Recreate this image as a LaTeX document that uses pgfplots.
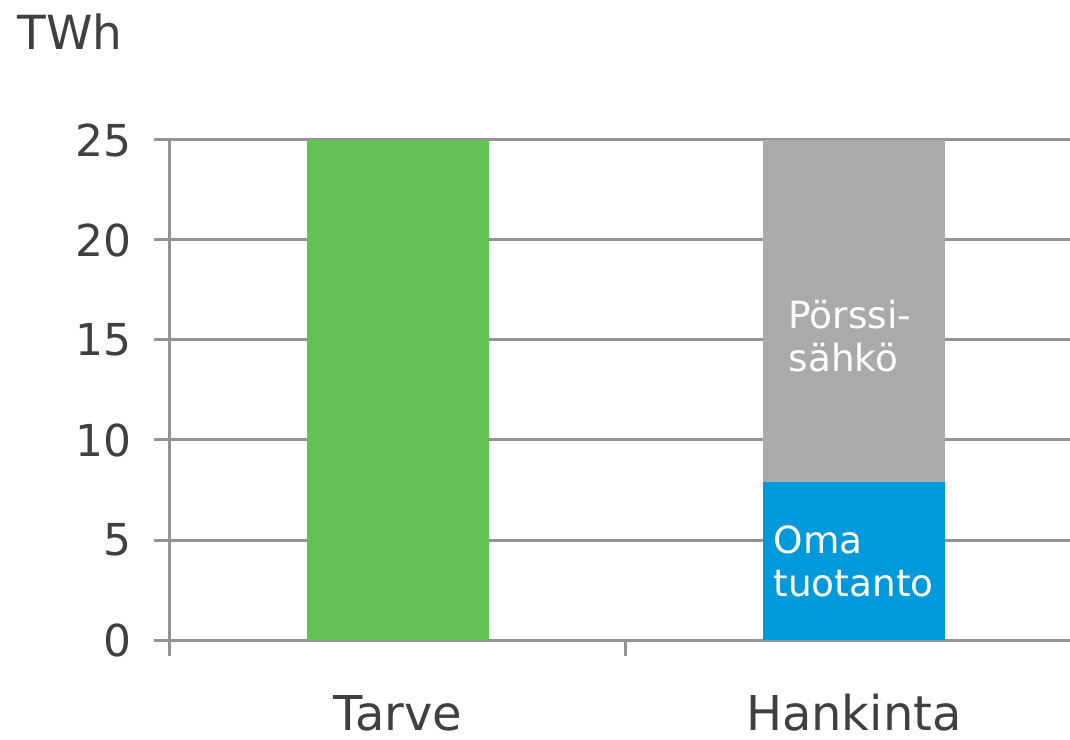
\documentclass[border=0pt]{standalone}
\usepackage{fontspec}
\setmainfont{DejaVu Sans}
\usepackage{pgfplots}
\pgfplotsset{compat=1.18}
\definecolor{tarvegreen}{HTML}{62C354}
\definecolor{omablue}{HTML}{0099DA}
\definecolor{porssigray}{HTML}{AAAAAA}
\definecolor{axisgray}{HTML}{939393}
\definecolor{labelgray}{HTML}{404040}
\tikzset{inbar/.style={anchor=base west, inner sep=0pt, text=white,
   font=\fontsize{18.7}{22}\selectfont}}

\begin{document}
\begin{tikzpicture}
% 1 px of the reference = 0.5pt
\path[use as bounding box] (-85pt,-49.5pt) rectangle (450pt,320pt);
\begin{axis}[
 at={(0,0)}, anchor=south west,
 scale only axis, width=450pt, height=250pt,
 xmin=-0.5, xmax=1.474, ymin=0, ymax=25,
 ybar stacked, bar width=0.4,
 axis x line=bottom, axis y line=left,
 axis line style={-, draw=axisgray, line width=1.5pt},
 ytick={0,5,...,25}, ymajorgrids,
 grid style={draw=axisgray, line width=1.5pt},
 xtick={-0.5,0.5}, xticklabels={},
 extra x ticks={0,1}, extra x tick labels={Tarve,Hankinta},
 extra x tick style={major tick length=0pt,
   xticklabel style={anchor=base, inner sep=0pt, yshift=-45pt, font=\fontsize{24}{28}\selectfont}},
 tick align=outside, major tick length=8pt,
 tick style={draw=axisgray, line width=1.5pt},
 yticklabel style={anchor=east, inner sep=0pt, xshift=-11pt, font=\fontsize{22}{26}\selectfont},
 tick label style={text=labelgray},
 /pgf/number format/assume math mode=true,
 ylabel={TWh},
 every axis y label/.style={at={(axis description cs:0,1)}, anchor=base west,
   inner sep=0pt, xshift=-76.5pt, yshift=45pt, text=labelgray,
   font=\fontsize{23.5}{28}\selectfont},
]
\addplot[fill=tarvegreen, draw=none] coordinates {(0,25) (1,0)};
\addplot[fill=omablue, draw=none] coordinates {(0,0) (1,7.9)};
\addplot[fill=porssigray, draw=none] coordinates {(0,0) (1,17.1)};
\coordinate (porssi) at (axis cs:0.856,15.58);
\coordinate (oma) at (axis cs:0.823,4.33);
\end{axis}
% bar captions, written after the stacked bars so that they stay on top
\node[inbar] at (porssi) {Pörssi-};
\node[inbar] at ([yshift=-21.7pt]porssi) {sähkö};
\node[inbar] at (oma) {Oma};
\node[inbar] at ([yshift=-21.7pt]oma) {tuotanto};
\end{tikzpicture}
\end{document}
